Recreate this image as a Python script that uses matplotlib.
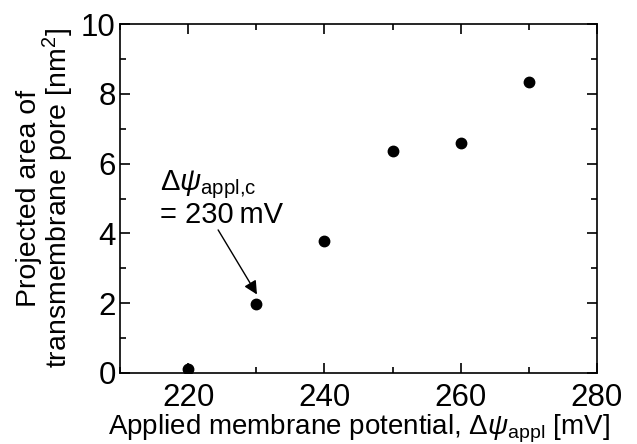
import matplotlib
matplotlib.use("Agg")
import matplotlib.pyplot as plt
from matplotlib.ticker import MultipleLocator

plt.rcParams['font.family'] = ['Liberation Sans', 'DejaVu Sans']
plt.rcParams['mathtext.fontset'] = 'custom'
plt.rcParams['mathtext.rm'] = 'Liberation Sans'
plt.rcParams['mathtext.it'] = 'Liberation Sans:italic'
plt.rcParams['mathtext.bf'] = 'Liberation Sans:bold'

# --- data ---
potential = [220, 230, 240, 250, 260, 270]     # mV
pore_area = [0.12, 1.97, 3.78, 6.35, 6.60, 8.35]  # nm^2

fig = plt.figure(figsize=(6.37, 4.44), dpi=100)
ax = fig.add_axes([120 / 637, 1 - 373 / 444, 477 / 637, 349 / 444])

ax.plot(potential, pore_area, 'o', color='black', markersize=7.5)

ax.set_xlim(210, 280)
ax.set_ylim(0, 10)
ax.xaxis.set_major_locator(MultipleLocator(20))
ax.xaxis.set_minor_locator(MultipleLocator(10))
ax.yaxis.set_major_locator(MultipleLocator(2))
ax.yaxis.set_minor_locator(MultipleLocator(1))
ax.set_xticks([220, 240, 260, 280])
ax.tick_params(which='both', direction='in', top=True, right=True, width=1.2)
ax.tick_params(which='major', length=7, labelsize=22.5, pad=3)
ax.tick_params(axis='x', which='major', pad=7)
ax.tick_params(which='minor', length=4)
for s in ax.spines.values():
    s.set_linewidth(1.2)

ax.set_xlabel(r'Applied membrane potential, $\Delta\psi_{\mathrm{appl}}$ [mV]', fontsize=20, labelpad=0)
ax.set_ylabel('Projected area of\ntransmembrane pore [nm$^2$]', fontsize=20.5, labelpad=4,
              linespacing=0.95)

# annotation for the critical potential
ax.text(215.9, 4.3, r'$\Delta\psi_{\mathrm{appl{,}c}}$' + '\n= 230\u2009mV',
        fontsize=21, ha='left', va='baseline', linespacing=1.0)
ax.annotate('', xy=(230.1, 2.25), xytext=(224.4, 4.1),
            arrowprops=dict(arrowstyle='-|>', color='black', lw=1.0,
                            mutation_scale=20, shrinkA=0, shrinkB=0))

fig.savefig('out.png', dpi=100)
